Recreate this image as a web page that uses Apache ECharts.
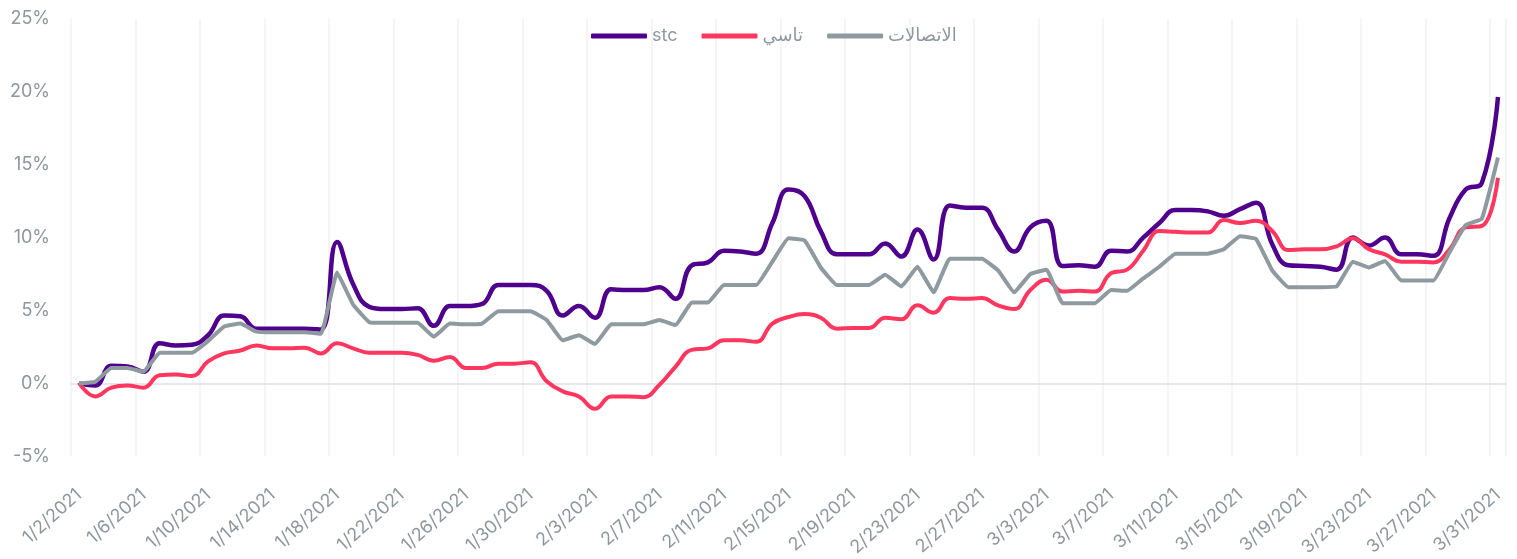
<!DOCTYPE html>
<html>
<head>
<meta charset="UTF-8">
<title>stc</title>
<script src="https://cdn.jsdelivr.net/npm/echarts@6/dist/echarts.min.js"></script>
<style>
	html, body { margin: 0; padding: 0; background: #fff; }
	#main { width: 1517px; height: 559px; }
</style>
</head>
<body>
	<div id="main"></div>
	<script>
	// daily dates 1/2/2021 .. 3/31/2021
	var dates = [
	    '1/2/2021', '1/3/2021', '1/4/2021', '1/5/2021', '1/6/2021', '1/7/2021', '1/8/2021', '1/9/2021',
	    '1/10/2021', '1/11/2021', '1/12/2021', '1/13/2021', '1/14/2021', '1/15/2021', '1/16/2021', '1/17/2021',
	    '1/18/2021', '1/19/2021', '1/20/2021', '1/21/2021', '1/22/2021', '1/23/2021', '1/24/2021', '1/25/2021',
	    '1/26/2021', '1/27/2021', '1/28/2021', '1/29/2021', '1/30/2021', '1/31/2021', '2/1/2021', '2/2/2021',
	    '2/3/2021', '2/4/2021', '2/5/2021', '2/6/2021', '2/7/2021', '2/8/2021', '2/9/2021', '2/10/2021',
	    '2/11/2021', '2/12/2021', '2/13/2021', '2/14/2021', '2/15/2021', '2/16/2021', '2/17/2021', '2/18/2021',
	    '2/19/2021', '2/20/2021', '2/21/2021', '2/22/2021', '2/23/2021', '2/24/2021', '2/25/2021', '2/26/2021',
	    '2/27/2021', '2/28/2021', '3/1/2021', '3/2/2021', '3/3/2021', '3/4/2021', '3/5/2021', '3/6/2021',
	    '3/7/2021', '3/8/2021', '3/9/2021', '3/10/2021', '3/11/2021', '3/12/2021', '3/13/2021', '3/14/2021',
	    '3/15/2021', '3/16/2021', '3/17/2021', '3/18/2021', '3/19/2021', '3/20/2021', '3/21/2021', '3/22/2021',
	    '3/23/2021', '3/24/2021', '3/25/2021', '3/26/2021', '3/27/2021', '3/28/2021', '3/29/2021', '3/30/2021',
	    '3/31/2021'
	];

	var seriesNames = [ 'stc', 'تاسي', 'الاتصالات' ];

	// cumulative change, %
	var stcValues = [
	    0, -0.15, 1.2, 1.15, 0.8, 2.75, 2.6, 2.65, 3.3, 4.65, 4.6, 3.75, 3.75, 3.75, 3.75, 3.7,
	    9.7, 6.8, 5.25, 5.1, 5.1, 5.15, 3.95, 5.3, 5.3, 5.45, 6.75, 6.75, 6.75, 6.35, 4.65, 5.3,
	    4.5, 6.45, 6.4, 6.4, 6.6, 5.8, 8.1, 8.3, 9.1, 9.05, 8.9, 11.0, 13.3, 12.85, 10.45, 8.85,
	    8.85, 8.85, 9.6, 8.7, 10.55, 8.5, 12.2, 12.05, 12.05, 10.55, 9.05, 10.7, 11.15, 8.05, 8.1, 8.0,
	    9.1, 9.05, 10.0, 11.0, 11.9, 11.9, 11.8, 11.5, 11.95, 12.4, 9.55, 8.1, 8.05, 8.0, 7.8, 10.0,
	    9.45, 10.0, 8.85, 8.85, 8.75, 11.35, 13.3, 13.75, 19.65
	];
	var tasiValues = [
	    0.05, -0.9, -0.3, -0.15, -0.3, 0.55, 0.6, 0.5, 1.5, 2.05, 2.25, 2.6, 2.4, 2.4, 2.45, 2.05,
	    2.75, 2.4, 2.1, 2.1, 2.1, 1.95, 1.55, 1.8, 1.05, 1.05, 1.35, 1.35, 1.45, 0.15, -0.55, -0.9,
	    -1.75, -0.9, -0.9, -0.95, -0.1, 1.15, 2.3, 2.4, 2.95, 2.95, 2.85, 4.1, 4.55, 4.75, 4.5, 3.75,
	    3.8, 3.8, 4.5, 4.4, 5.35, 4.85, 5.85, 5.8, 5.85, 5.35, 5.1, 6.4, 7.1, 6.3, 6.35, 6.3,
	    7.55, 7.8, 9.1, 10.45, 10.4, 10.35, 10.35, 11.2, 11.0, 11.15, 10.45, 9.15, 9.2, 9.2, 9.4, 9.95,
	    9.2, 8.85, 8.35, 8.35, 8.3, 9.2, 10.7, 10.8, 14.1
	];
	var etihadValues = [
	    0, 0.1, 1.05, 1.05, 0.8, 2.1, 2.1, 2.1, 2.9, 3.9, 4.1, 3.55, 3.5, 3.5, 3.5, 3.4,
	    7.6, 5.4, 4.2, 4.15, 4.15, 4.15, 3.2, 4.1, 4.05, 4.1, 4.95, 4.95, 4.95, 4.35, 2.95, 3.3,
	    2.7, 4.05, 4.05, 4.05, 4.35, 4.0, 5.55, 5.55, 6.75, 6.75, 6.75, 8.35, 9.95, 9.8, 7.95, 6.75,
	    6.75, 6.75, 7.45, 6.65, 8.0, 6.25, 8.55, 8.55, 8.55, 7.75, 6.25, 7.5, 7.8, 5.5, 5.5, 5.5,
	    6.4, 6.35, 7.2, 8.0, 8.9, 8.9, 8.9, 9.2, 10.1, 9.9, 7.75, 6.6, 6.6, 6.6, 6.65, 8.35,
	    7.95, 8.4, 7.05, 7.05, 7.05, 9.0, 10.85, 11.3, 15.5
	];

	var textColor = '#8e979e';
	var fontFamily = "Inter, 'DejaVu Sans', sans-serif";

	var chart = echarts.init(document.getElementById('main'));
	var option = {
	    animation : false,
	    color : [ '#4f008c', '#ff375e', '#8e9aa0' ],
	    textStyle : {
		fontFamily : fontFamily
	    },
	    legend : {
		top : 22,
		left : 586,
		icon : 'roundRect',
		itemWidth : 56,
		itemHeight : 5,
		itemGap : 24,
		textStyle : {
		    color : textColor,
		    fontSize : 18,
		    fontFamily : fontFamily
		},
		data : seriesNames
	    },
	    grid : {
		left : 71,
		right : 11,
		top : 19,
		bottom : 100
	    },
	    xAxis : {
		type : 'category',
		data : dates,
		boundaryGap : true,
		axisLine : {
		    onZero : true,
		    lineStyle : {
			color : '#dde2ea',
			width : 1.5
		    }
		},
		axisTick : {
		    show : false
		},
		axisLabel : {
		    interval : 3,
		    rotate : 42,
		    margin : 36,
		    color : textColor,
		    fontSize : 18
		},
		splitLine : {
		    show : true,
		    interval : 3,
		    lineStyle : {
			color : '#f2f2f4',
			width : 1.5
		    }
		}
	    },
	    yAxis : {
		type : 'value',
		min : -5,
		max : 25,
		interval : 5,
		axisLine : {
		    show : false
		},
		axisTick : {
		    show : false
		},
		splitLine : {
		    show : false
		},
		axisLabel : {
		    formatter : '{value}%',
		    margin : 21,
		    color : textColor,
		    fontSize : 18
		}
	    },
	    series : [ {
		name : seriesNames[0],
		type : 'line',
		data : stcValues,
		smooth : 0.45,
		symbol : 'none',
		lineStyle : {
		    width : 4.5
		}
	    }, {
		name : seriesNames[1],
		type : 'line',
		data : tasiValues,
		smooth : 0.45,
		symbol : 'none',
		lineStyle : {
		    width : 4
		}
	    }, {
		name : seriesNames[2],
		type : 'line',
		data : etihadValues,
		smooth : 0.1,
		symbol : 'none',
		lineStyle : {
		    width : 4
		}
	    } ]
	};
	chart.setOption(option);
    </script>
</body>
</html>
